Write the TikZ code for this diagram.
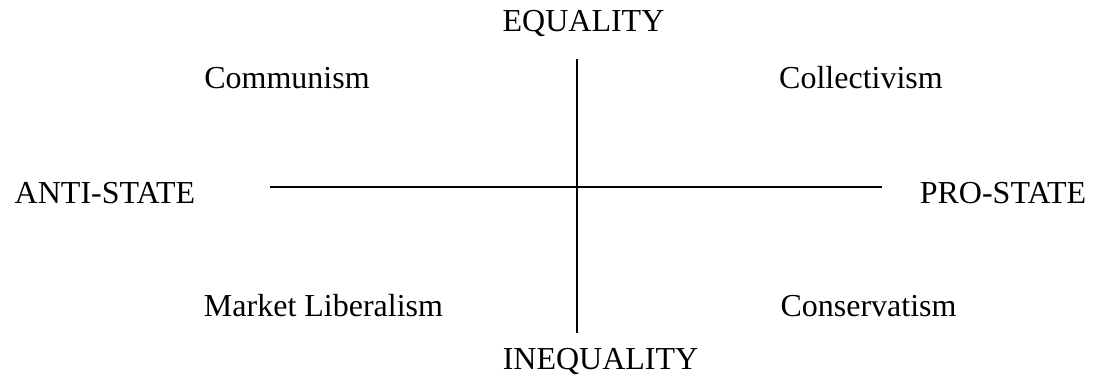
\documentclass[tikz,border=0pt]{standalone}
\usepackage{fontspec}
\setmainfont{Liberation Serif}
\begin{document}
\begin{tikzpicture}[x=1pt,y=-1pt,
  lbl/.style={anchor=base,inner sep=0pt,font=\fontsize{32}{38}\selectfont},
  axis/.style={line width=2pt}]
\useasboundingbox (0,0) rectangle (1100,380);
\node[lbl] (eq) at (583.5,31) {EQUALITY};
\node[lbl] (ineq) at (600.5,369) {INEQUALITY};
\node[lbl] (anti) at (105,203) {ANTI-STATE};
\node[lbl] (pro) at (1003,203) {PRO-STATE};
\node[lbl] (comm) at (287,88) {Communism};
\node[lbl] (coll) at (861,88) {Collectivism};
\node[lbl] (mkt) at (323.5,316) {Market Liberalism};
\node[lbl] (cons) at (868.5,316) {Conservatism};
\coordinate (top) at (577,59);
\coordinate (bot) at (577,333);
\coordinate (left) at (270,187);
\coordinate (right) at (882,187);
\draw[axis] (top) -- (bot);
\draw[axis] (left) -- (right);
\end{tikzpicture}
\end{document}
